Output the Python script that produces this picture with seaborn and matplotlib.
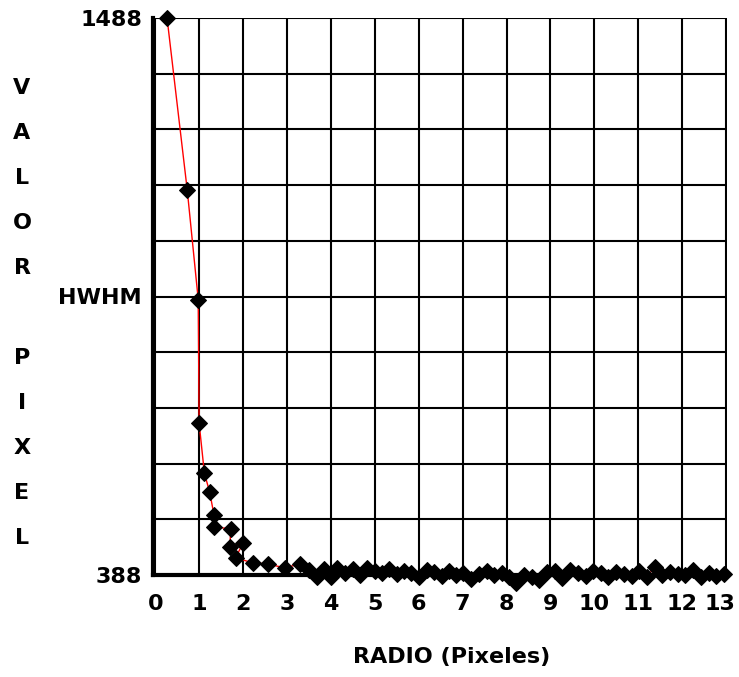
import numpy as np
import pandas as pd
import matplotlib
matplotlib.use("Agg")
import matplotlib.pyplot as plt
import matplotlib.transforms as mtransforms
import seaborn as sns

# radial profile: radius (pixels) vs pixel value
radius_head = [0.27, 0.73, 0.98, 1.00, 1.12, 1.24, 1.34, 1.35, 1.72, 1.70,
               2.00, 1.83, 2.22, 2.56, 2.95]
value_head = [1488, 1148, 932, 688, 589, 552, 506, 483, 479, 443,
              451, 422, 412, 410, 402]

radius_tail = [3.30, 3.50, 3.68, 3.85, 4.00, 4.15, 4.32, 4.50, 4.66, 4.82,
               5.00, 5.16, 5.33, 5.50, 5.66, 5.83, 6.00, 6.18, 6.35, 6.52,
               6.70, 6.86, 7.02, 7.20, 7.37, 7.55, 7.72, 7.90, 8.05, 8.22,
               8.40, 8.57, 8.75, 8.92, 9.10, 9.27, 9.45, 9.62, 9.80, 9.97,
               10.15, 10.32, 10.50, 10.67, 10.85, 11.02, 11.20, 11.37, 11.55, 11.72,
               11.90, 12.07, 12.25, 12.42, 12.60, 12.77, 12.95]
value_tail = [410, 398, 385, 400, 384, 402, 392, 400, 388, 402,
              396, 392, 400, 390, 396, 392, 384, 398, 394, 386,
              396, 388, 392, 380, 390, 396, 388, 392, 384, 372,
              388, 384, 378, 394, 396, 382, 398, 392, 386, 396,
              392, 384, 394, 390, 386, 396, 384, 404, 388, 394,
              390, 388, 398, 384, 392, 386, 390]

y_min, y_max = 388, 1488
hwhm = (y_min + y_max) / 2
x_ticks = list(range(14))

df = pd.DataFrame({"radio": radius_head + radius_tail,
                   "valor": value_head + value_tail})

sns.set_style("white")
plt.rcParams['font.family'] = ['DejaVu Sans']
plt.rcParams['font.weight'] = 'bold'
plt.rcParams['text.color'] = 'black'
plt.rcParams['xtick.color'] = 'black'
plt.rcParams['ytick.color'] = 'black'

fig = plt.figure(figsize=(7.39, 6.77), dpi=100)
ax = fig.add_axes([153/739, 1 - 575/677, 574/739, 557/677])

sns.lineplot(data=df, x="radio", y="valor", sort=False, ax=ax,
             color="red", linewidth=1, marker="D", markersize=8,
             markerfacecolor="black", markeredgecolor="black")
for ln in ax.lines:
    ln.set_clip_on(False)
    ln.set_zorder(5)

ax.set_xlim(-0.05, 13.02)
ax.set_ylim(y_min, y_max)

# grid every 110 on y, every unit on x
ax.set_yticks(np.linspace(y_min, y_max, 11), minor=True)
ax.set_yticks([y_min, hwhm, y_max])
ax.set_yticklabels(["388", "HWHM", "1488"])
ax.set_xticks(x_ticks)
ax.set_xticklabels([str(t) for t in x_ticks])
ax.grid(True, which="both", color="black", linewidth=1.5)
ax.set_axisbelow(True)

ax.tick_params(axis="both", which="both", length=0, labelsize=16,
               labelcolor="black")
ax.tick_params(axis="y", pad=8)
ax.tick_params(axis="x", pad=14)
for lab in ax.get_xticklabels() + ax.get_yticklabels():
    lab.set_fontweight("bold")

# last x label sits a little inside the right edge, like the original
last = ax.get_xticklabels()[-1]
last.set_transform(last.get_transform() +
                   mtransforms.ScaledTranslation(-6/100, 0, fig.dpi_scale_trans))

for side in ["top", "right"]:
    ax.spines[side].set_visible(False)
for side in ["left", "bottom"]:
    ax.spines[side].set_color("black")
    ax.spines[side].set_linewidth(3)
    ax.spines[side].set_zorder(4)

ax.set_xlabel("")
ax.set_ylabel("")

fig.text(452/739, 1 - 657/677, "RADIO (Pixeles)", ha="center", va="center",
         fontsize=16, fontweight="bold", color="black")

letters = ["V", "A", "L", "O", "R", "", "P", "I", "X", "E", "L"]
for i, ch in enumerate(letters):
    fig.text(22/739, 1 - (88 + 45 * i)/677, ch, ha="center", va="center",
             fontsize=16, fontweight="bold", color="black")

fig.savefig("out.png", dpi=100)
